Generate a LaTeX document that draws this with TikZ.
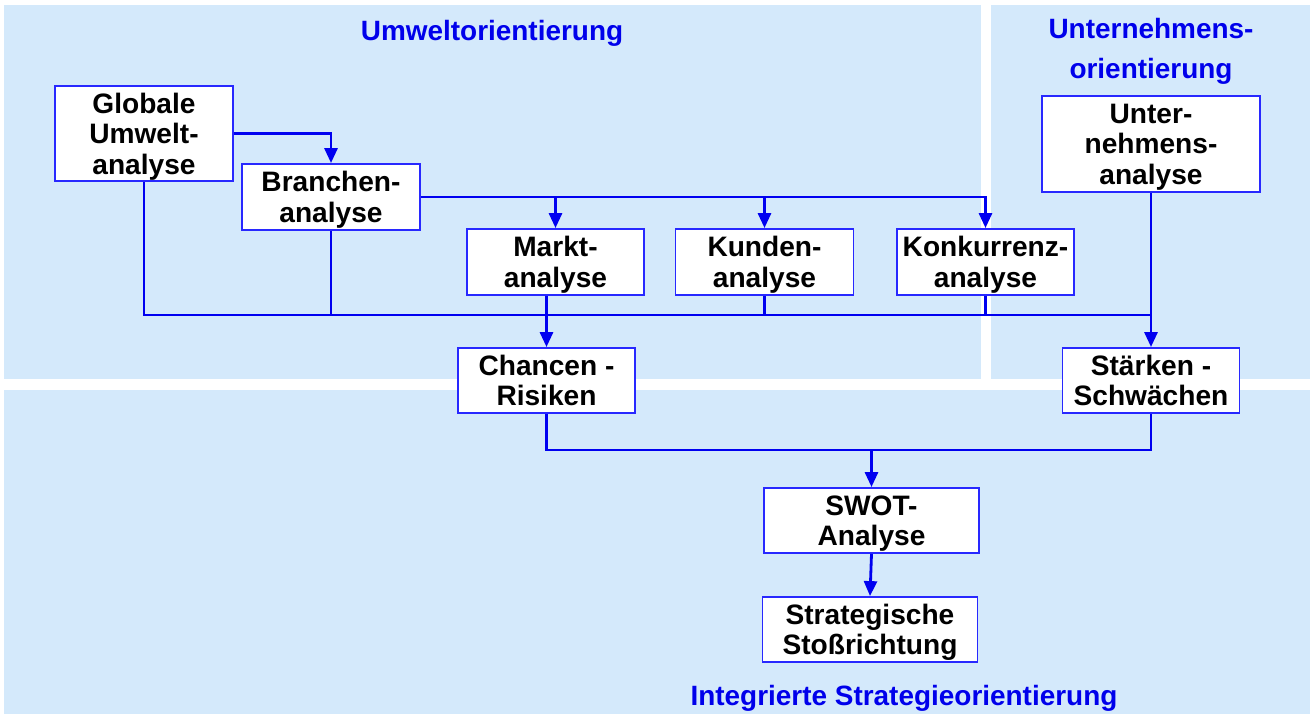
\documentclass[tikz,border=0pt]{standalone}
\usepackage{fontspec}
\setmainfont{Liberation Sans}
\usetikzlibrary{arrows.meta}
\definecolor{panel}{RGB}{212,233,251}
\definecolor{lineblue}{RGB}{0,0,240}
\definecolor{boxblue}{RGB}{40,40,255}
\definecolor{titleblue}{RGB}{0,0,235}
\tikzset{
  box/.style={draw=boxblue, line width=1.1pt, fill=white, align=center, inner sep=0pt,
    text depth=0pt, font=\fontsize{16pt}{17.3pt}\selectfont\bfseries},
  title/.style={text=titleblue, align=center, inner sep=0pt,
    font=\fontsize{15.9pt}{22.7pt}\selectfont\bfseries},
  conn/.style={draw=lineblue, line width=1.6pt},
  arr/.style={conn, -{Triangle[length=8.5pt, width=7.4pt]}},
  panelbox/.style={fill=panel, draw=none}
}
\begin{document}
\begin{tikzpicture}[x=0.02cm, y=-0.02cm]
\useasboundingbox (0,0) rectangle (1316,720);
\fill[white] (0,0) rectangle (1316,720);
% panels
\fill[panelbox] (4,5) rectangle (981,379);
\fill[panelbox] (991,5) rectangle (1310,379);
\fill[panelbox] (4,390) rectangle (1310,714);
% titles
\node[title, anchor=base] (t1) at (492,40.5) {Umweltorientierung};
\node[title, text depth=0pt, anchor=south] (t2) at (1151,79) {Unternehmens-\\orientierung};
\node[title, anchor=base] (t3) at (904,705) {Integrierte Strategieorientierung};
% boxes
\node[box, minimum width=178*0.02cm, minimum height=95*0.02cm] (glob) at (144,133.5) {Globale\\Umwelt-\\analyse};
\node[box, minimum width=178*0.02cm, minimum height=66*0.02cm] (branch) at (331,197) {Branchen-\\analyse};
\node[box, minimum width=177*0.02cm, minimum height=66*0.02cm] (markt) at (555.5,262) {Markt-\\analyse};
\node[box, minimum width=178*0.02cm, minimum height=66*0.02cm] (kunden) at (764.5,262) {Kunden-\\analyse};
\node[box, minimum width=177*0.02cm, minimum height=66*0.02cm] (konk) at (985.5,262) {Konkurrenz-\\analyse};
\node[box, minimum width=218*0.02cm, minimum height=96*0.02cm] (unter) at (1151,144) {Unter-\\nehmens-\\analyse};
\node[box, minimum width=177*0.02cm, minimum height=65*0.02cm] (chancen) at (546.5,380.5) {Chancen -\\Risiken};
\node[box, minimum width=177*0.02cm, minimum height=65*0.02cm] (staerken) at (1151,380.5) {Stärken -\\Schwächen};
\node[box, minimum width=215*0.02cm, minimum height=65*0.02cm] (swot) at (871.5,520.5) {SWOT-\\Analyse};
\node[box, minimum width=215*0.02cm, minimum height=65*0.02cm] (strat) at (870,629.5) {Strategische\\Stoßrichtung};
% bus coordinates
\coordinate (bus) at (0,315);
\coordinate (bus2) at (0,450);
% connectors
\draw[arr] (glob.east) -| (branch.north);
\draw[arr] (branch.east) -| (konk.north);
\draw[arr] (branch.east -| markt.north) -- (markt.north);
\draw[arr] (branch.east -| kunden.north) -- (kunden.north);
\draw[conn] (glob.south) |- (bus -| unter.south);
\draw[conn] (branch.south) -- (branch.south |- bus);
\draw[conn] (chancen.north |- markt.south) -- (chancen.north |- bus);
\draw[conn] (kunden.south) -- (kunden.south |- bus);
\draw[conn] (konk.south) -- (konk.south |- bus);
\draw[arr] (chancen.north |- bus) -- (chancen.north);
\draw[arr] (unter.south) -- (staerken.north);
\draw[conn] (chancen.south) -- (chancen.south |- bus2) -- (staerken.south |- bus2) -- (staerken.south);
\draw[arr] (swot.north |- bus2) -- (swot.north);
\draw[arr] (swot.south) -- (strat.north);
\end{tikzpicture}
\end{document}
